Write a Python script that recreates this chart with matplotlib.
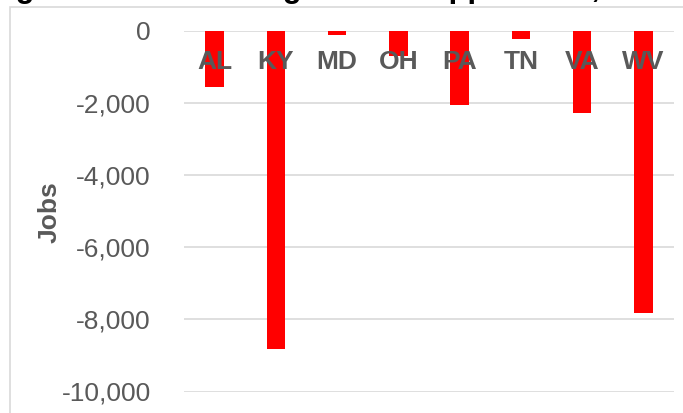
import matplotlib
matplotlib.use("Agg")
import matplotlib.pyplot as plt
from matplotlib.patches import Rectangle
from matplotlib.ticker import FuncFormatter

states = ["AL", "KY", "MD", "OH", "PA", "TN", "VA", "WV"]
jobs = [-1550, -8830, -120, -680, -2040, -220, -2270, -7830]
yticks = [0, -2000, -4000, -6000, -8000, -10000]
title = "Figure 1. Coal Mining Jobs in Appalachia, 2014-2015"

plt.rcParams["font.family"] = ["Liberation Sans", "DejaVu Sans"]
W, H = 683, 413
fig = plt.figure(figsize=(W / 100, H / 100), dpi=100)

# outer chart border (partially cropped)
fig.patches.append(Rectangle((10 / W, -0.2), 1.5, (H - 7) / H + 0.2,
                             transform=fig.transFigure, fill=False,
                             edgecolor="#d9d9d9", linewidth=1.2))
# cropped title (only descenders visible)
fig.text(-12 / W, (H + 2.5) / H, title, ha="left", va="baseline",
         fontsize=22.3, fontweight="bold", color="black")

ax = fig.add_axes([184 / W, (H - 391.5) / H, (674 - 184) / W, (391.5 - 31) / H])
x = list(range(len(states)))
ax.bar(x, jobs, width=0.3, color="#ff0000", zorder=2)
ax.set_xlim(-0.5, len(states) - 0.5)
ax.set_ylim(-10000, 0)
ax.set_yticks(yticks)
ax.yaxis.set_major_formatter(FuncFormatter(lambda v, p: f"{int(v):,}"))
ax.tick_params(axis="y", length=0, pad=24, labelsize=19, labelcolor="#595959")
ax.set_xticks([])
ax.grid(axis="y", color="#d9d9d9", linewidth=1.2, zorder=0)
ax.set_axisbelow(True)
for s in ax.spines.values():
    s.set_visible(False)

for xi, st in zip(x, states):
    ax.annotate(st, (xi, 0), xytext=(0, -31), textcoords="offset pixels",
                ha="center", va="center", fontsize=19, fontweight="bold",
                color="#595959", zorder=3)

fig.text(50 / W, (H - 212) / H, "Jobs", rotation=90, ha="center", va="center",
         fontsize=19, fontweight="bold", color="#595959")

fig.savefig("out.png", dpi=100)
